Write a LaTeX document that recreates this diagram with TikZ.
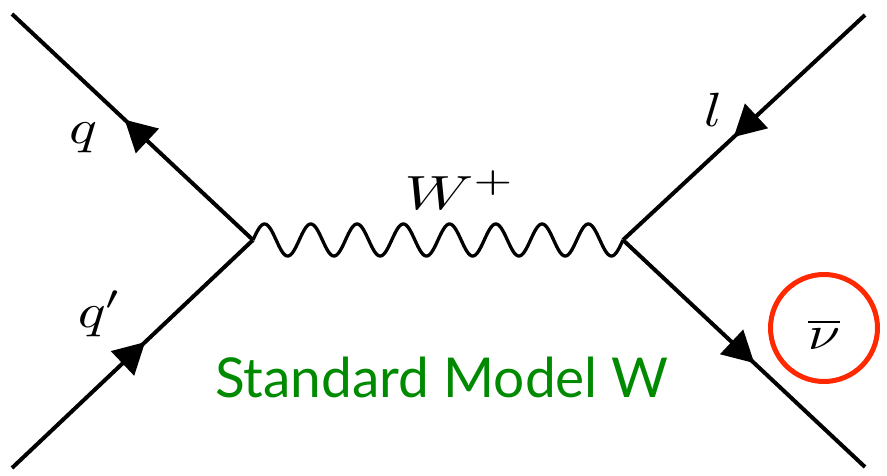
\documentclass[tikz,border=0pt]{standalone}
\usepackage{fontspec}
\newfontfamily\labelfont{Lato}
\usetikzlibrary{decorations.markings}
\definecolor{smgreen}{RGB}{0,138,0}
\definecolor{ringred}{RGB}{255,40,0}
\begin{document}
\begin{tikzpicture}[x=1pt,y=-1pt,
  fermion/.style={line width=4pt, postaction={decorate},
    decoration={markings, mark=at position #1 with {\fill (4pt,0pt) -- (-27pt,17pt) -- (-27pt,-17pt) -- cycle;}}},
  boson/.style={line width=3.3pt},
  lbl/.style={xscale=5.8, yscale=4.8, inner sep=0pt}]
\useasboundingbox (0,0) rectangle (887,476);
\coordinate (v1) at (253,240);
\coordinate (v2) at (623,240);
\coordinate (qend) at (12,14);
\coordinate (qpend) at (12,468);
\coordinate (lend) at (865,15);
\coordinate (nuend) at (865,467);
\draw[fermion=0.52] (v1) -- (qend);
\draw[fermion=0.54] (qpend) -- (v1);
\draw[fermion=0.53] (lend) -- (v2);
\draw[fermion=0.53] (v2) -- (nuend);
\draw[boson, shift={(v1)}] plot[domain=0:370, samples=400, smooth] ({\x},{-16*sin(\x/46.25*360)}) -- (v2);
\node[lbl] (lq) at (83,138) {$q$};
\node[lbl] (lqp) at (100,314) {$q'$};
\node[lbl, xscale=1.1] (lW) at (460,190) {$W^+$};
\node[lbl] (ll) at (713,110) {$l$};
\node[lbl] (lnu) at (824,334) {$\overline{\nu}$};
\node[draw=ringred, circle, minimum size=107pt, line width=5pt] (ring) at (824,328) {};
\node[anchor=base, text=smgreen, font=\labelfont\fontsize{55}{62}\selectfont, inner sep=0pt] (title) at (442,397) {Standard Model W};
\end{tikzpicture}
\end{document}
